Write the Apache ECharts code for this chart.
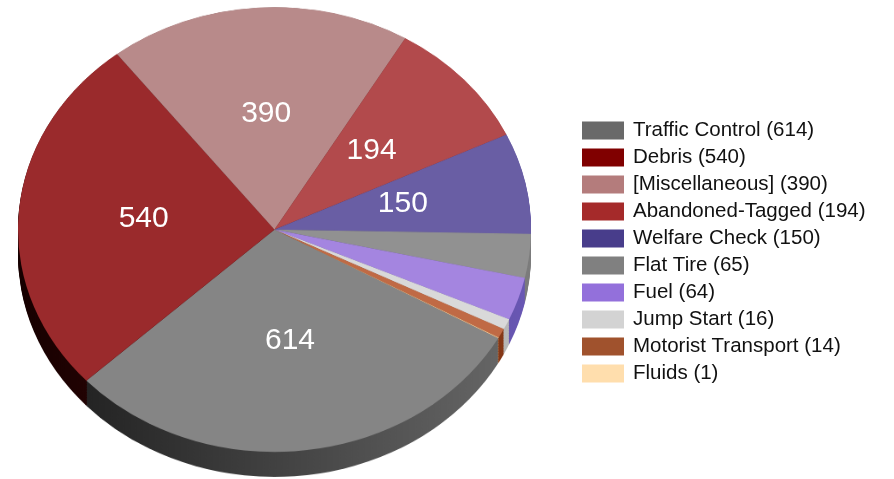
<!DOCTYPE html>
<html>
<head>
<meta charset="utf-8">
<script src="https://cdn.jsdelivr.net/npm/echarts@6/dist/echarts.min.js"></script>
<style>
  html, body { margin: 0; padding: 0; background: #fff; }
  #wrap { position: relative; width: 894px; height: 479px; overflow: hidden; }
  /* the pie is drawn round and squashed by css to look tilted */
  #pie { position: absolute; left: 0; top: 0; width: 894px; height: 560px; transform: scaleY(0.867); transform-origin: 0 0; }
  #front { position: absolute; left: 0; top: 0; width: 894px; height: 479px; }
</style>
</head>
<body>
<div id="wrap">
  <div id="pie"></div>
  <div id="front"></div>
</div>
<script>
const names = ["Traffic Control", "Debris", "[Miscellaneous]", "Abandoned-Tagged", "Welfare Check",
               "Flat Tire", "Fuel", "Jump Start", "Motorist Transport", "Fluids"];
const values = [614, 540, 390, 194, 150, 65, 64, 16, 14, 1];

const topColors = ["#858585", "#9a2a2c", "#b88a8a", "#b24a4c", "#695ea4",
                   "#919191", "#a485e0", "#d9d9d9", "#c06a45", "#f2cc9c"];
const legendColors = ["#696969", "#800000", "#b47c7c", "#a52a2a", "#483d8b",
                      "#808080", "#9370db", "#d3d3d3", "#a0522d", "#ffdead"];
const sideColors = [["#191919", "#6a6a6a"], ["#160000", "#6a1515"], ["#3a2626", "#8a6060"], ["#3a1010", "#8a3030"], ["#1e1838", "#5e52a8"],
                    ["#2a2a2a", "#7c7c7c"], ["#241a40", "#6a58b5"], ["#444444", "#bdbdbd"], ["#301206", "#8a3a18"], ["#4a3520", "#d0a070"]];

const squash = 0.867;
const cx = 274.5, cy = 229.5, r = 256.5, depth = 25;
const startAngle = 330.75;
const font = "'Liberation Sans', Arial, sans-serif";

let pieChart = echarts.init(document.getElementById("pie"));
let frontChart = echarts.init(document.getElementById("front"));

let preCy = cy / squash;
let preDepth = depth / squash;

function sideData() {
    return names.map((n, i) => ({
        name: n,
        value: values[i],
        itemStyle: {
            color: new echarts.graphic.LinearGradient(cx - r, 0, cx + r, 0, [
                { offset: 0, color: sideColors[i][0] },
                { offset: 1, color: sideColors[i][1] }
            ], true)
        }
    }));
}

let series = [];
// side of the disc: the same pie stacked downwards
for (let d = preDepth; d > 0; d -= 1.5) {
    series.push({
        type: "pie",
        center: [cx, preCy + d],
        radius: r,
        startAngle: startAngle,
        clockwise: true,
        silent: true,
        label: { show: false },
        labelLine: { show: false },
        itemStyle: { borderWidth: 0 },
        data: sideData()
    });
}
// top face
series.push({
    type: "pie",
    center: [cx, preCy],
    radius: r,
    startAngle: startAngle,
    clockwise: true,
    silent: true,
    label: { show: false },
    labelLine: { show: false },
    itemStyle: { borderWidth: 0 },
    data: names.map((n, i) => ({ name: n, value: values[i], itemStyle: { color: topColors[i] } }))
});

pieChart.setOption({ animation: false, series: series });

frontChart.setOption({
    animation: false,
    legend: {
        orient: "vertical",
        left: 582,
        top: 120,
        padding: 0,
        itemWidth: 42,
        itemHeight: 18,
        itemGap: 6,
        icon: "rect",
        selectedMode: false,
        textStyle: { fontSize: 20.5, color: "#111", fontFamily: font, padding: [0, 0, 0, 4] },
        formatter: (name) => name + " (" + values[names.indexOf(name)] + ")",
        data: names.map((n, i) => ({ name: n, itemStyle: { color: legendColors[i] } }))
    },
    series: [{
        type: "pie",
        center: [cx, cy],
        radius: r,
        startAngle: startAngle,
        clockwise: true,
        silent: true,
        label: { position: "inside", color: "#fff", fontSize: 30, fontFamily: font, formatter: "{c}" },
        labelLine: { show: false },
        labelLayout: function (p) {
            let lx = p.labelRect.x + p.labelRect.width / 2;
            let ly = p.labelRect.y + p.labelRect.height / 2;
            return { x: lx, y: cy + (ly - cy) * squash - 2, align: "center", verticalAlign: "middle" };
        },
        data: names.map((n, i) => ({
            name: n,
            value: values[i],
            itemStyle: { color: "rgba(0,0,0,0)" },
            label: { show: values[i] >= 100 }
        }))
    }]
});
</script>
</body>
</html>
